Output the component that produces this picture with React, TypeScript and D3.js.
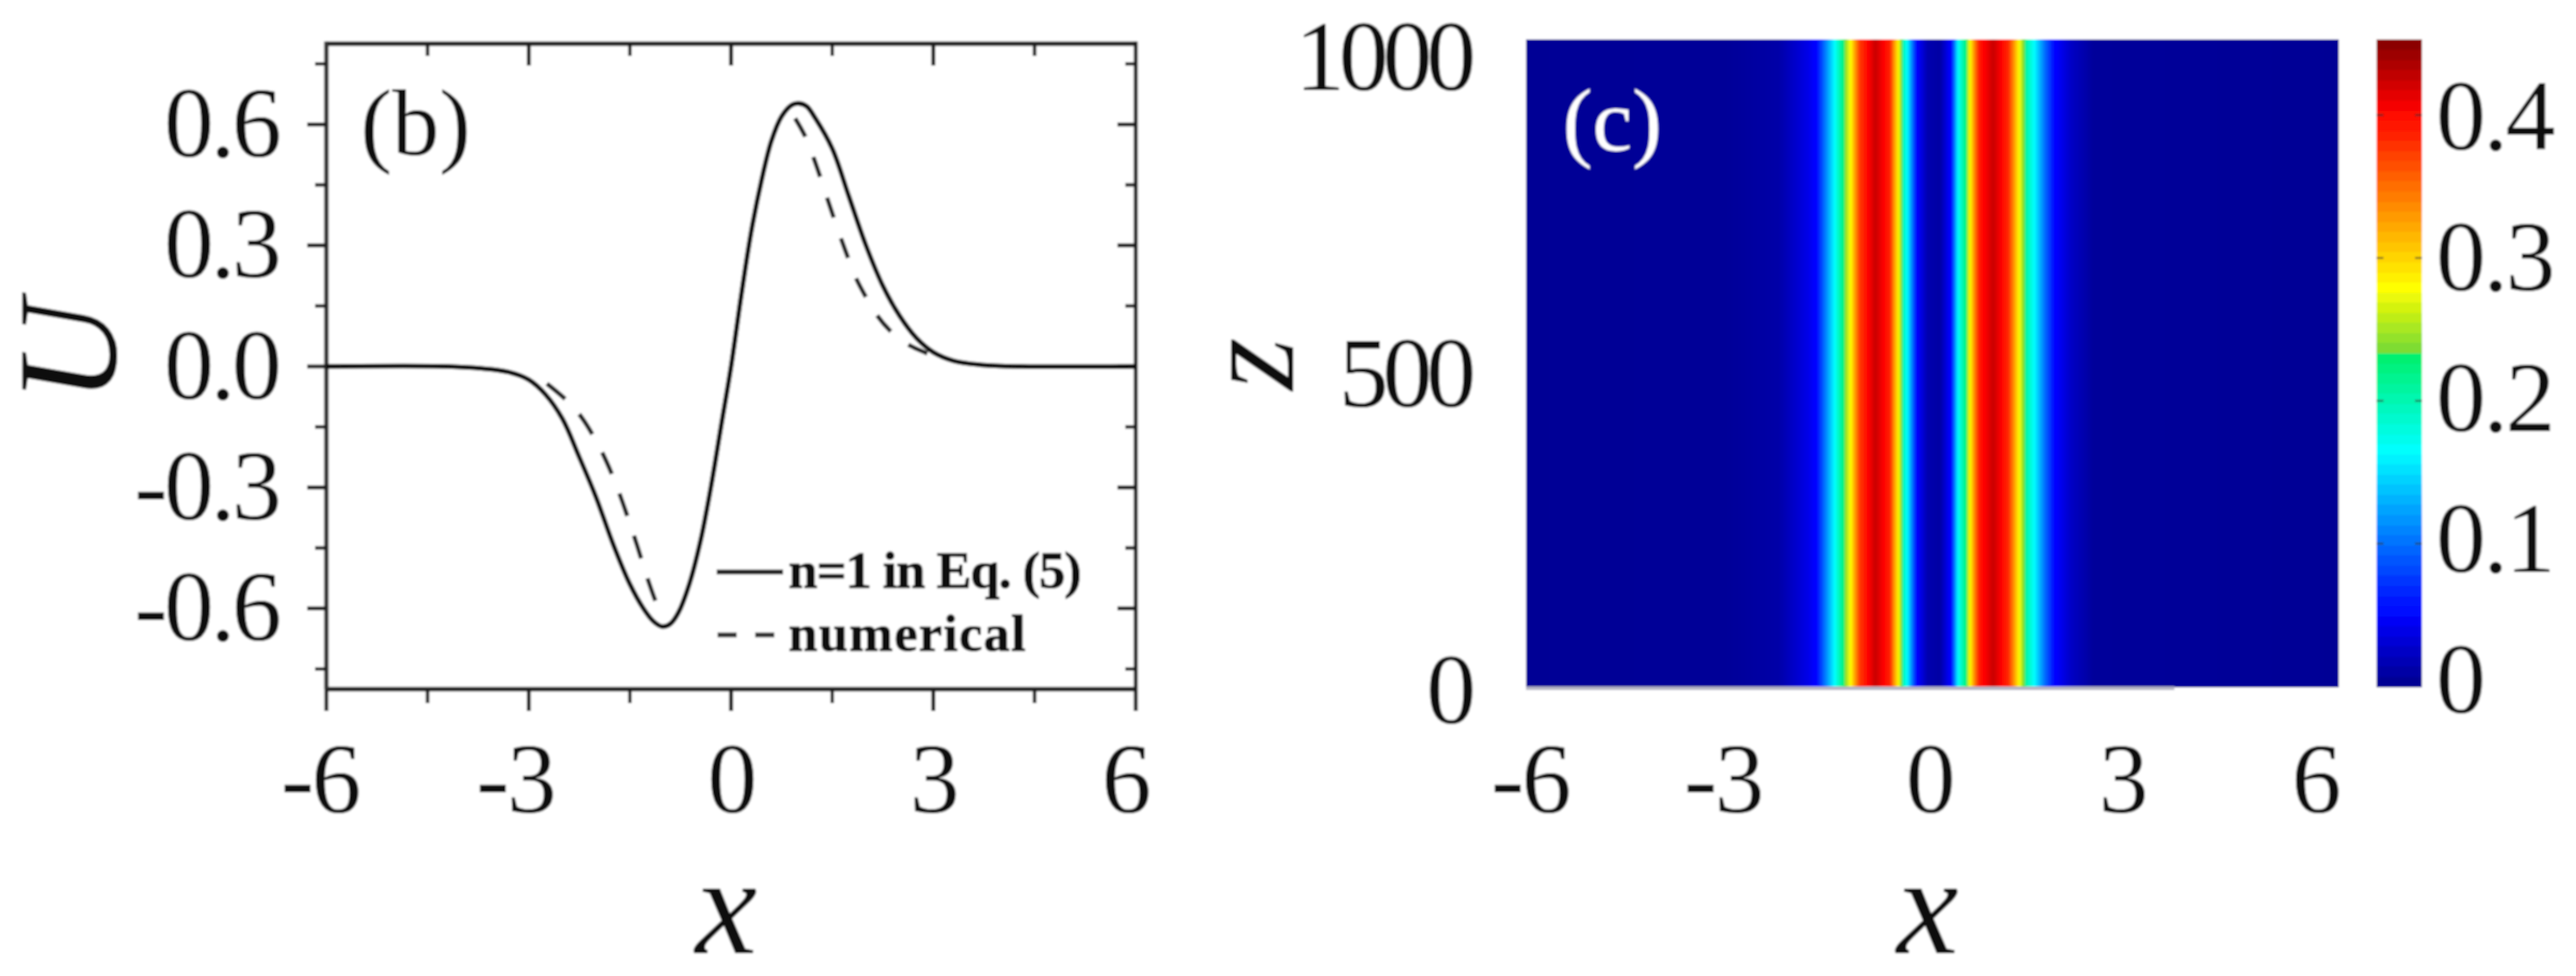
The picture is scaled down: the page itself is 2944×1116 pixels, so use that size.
import React from "react";
import * as d3 from "d3";

// Panel (b) tick values
const bXTicks = [-6, -3, 0, 3, 6];
const bXMinor = [-4.5, -1.5, 1.5, 4.5];
const bYTicks = [-0.6, -0.3, 0, 0.3, 0.6];
const bYMinor = [-0.75, -0.45, -0.15, 0.15, 0.45, 0.75];

// Solid curve: n=1 in Eq. (5)
const solidX = [-6, -4.2, -3.7, -3.3, -3, -2.75, -2.5, -2.25, -2, -1.75, -1.5, -1.3, -1.15, -1.02, -0.9, -0.78, -0.62, -0.45, -0.3, -0.15, 0, 0.15, 0.3, 0.45, 0.6, 0.75, 0.9, 1.0, 1.12, 1.25, 1.5, 1.75, 2, 2.25, 2.5, 2.75, 3, 3.3, 3.7, 4.3, 6];
const solidU = [0, 0, -0.005, -0.014, -0.033, -0.07, -0.13, -0.225, -0.325, -0.44, -0.54, -0.6, -0.632, -0.645, -0.638, -0.61, -0.54, -0.43, -0.3, -0.15, 0, 0.175, 0.335, 0.46, 0.56, 0.62, 0.648, 0.652, 0.645, 0.615, 0.54, 0.42, 0.3, 0.2, 0.125, 0.07, 0.035, 0.014, 0.004, 0, 0];

// Dashed curve: numerical (visible lobes)
const numLeftX = [-2.73, -2.4, -2.2, -2, -1.85, -1.7, -1.55, -1.4, -1.25, -1.1, -1.0];
const numLeftU = [-0.043, -0.09, -0.13, -0.185, -0.235, -0.295, -0.365, -0.44, -0.52, -0.59, -0.625];
const numRightX = [0.95, 1.1, 1.25, 1.4, 1.55, 1.7, 1.85, 2, 2.15, 2.35, 2.6, 2.8, 3.1];
const numRightU = [0.615, 0.57, 0.505, 0.43, 0.355, 0.285, 0.22, 0.172, 0.13, 0.09, 0.057, 0.04, 0.02];

// Panel (c) intensity profile across x (constant along z)
const profileX = [-6.23, -3.2, -2.35, -1.9, -1.76, -1.58, -1.49, -1.36, -1.25, -1.11, -0.87, -0.64, -0.58, -0.51, -0.44, -0.38, -0.24, -0.07, 0.12, 0.3, 0.4, 0.52, 0.63, 0.72, 0.94, 1.17, 1.26, 1.37, 1.46, 1.57, 1.73, 1.87, 2.13, 2.48, 6.23];
const profileI = [0.004, 0.005, 0.012, 0.04, 0.055, 0.13, 0.167, 0.225, 0.28, 0.375, 0.425, 0.385, 0.33, 0.28, 0.2, 0.165, 0.055, 0.015, 0.01, 0.055, 0.165, 0.225, 0.32, 0.39, 0.425, 0.385, 0.33, 0.26, 0.2, 0.165, 0.1, 0.055, 0.025, 0.006, 0.004];
const cXTicks = [-6, -3, 0, 3, 6];
const cZTicks = [0, 500, 1000];
const cbarTicks = [0.1, 0.2, 0.3, 0.4];
const cbarLabels = [0, 0.1, 0.2, 0.3, 0.4];

// Colormap
const jetStops = [0, 0.11, 0.365, 0.5125, 0.5135, 0.617, 0.72, 0.89, 1];
const jetColors = ["#00008c", "#0000ff", "#00ffff", "#00f06c", "#70d838", "#ffff00", "#ffa000", "#ff0000", "#820000"];

const FONT = "'Liberation Serif', 'Times New Roman', serif";
const INK = "#1c1c1c";
const IMAX = 0.453;

const bx = d3.scaleLinear().domain([-6, 6]).range([373, 1298]);
const by = d3.scaleLinear().domain([-0.8, 0.8]).range([788, 50]);
const cx = d3.scaleLinear().domain([-6.23, 6.23]).range([1744, 2672]);
const cxLabel = d3.scaleLinear().domain([-6, 6]).range([1764, 2646]);
const czLabel = d3.scaleLinear().domain([0, 1000]).range([788, 64]);
const cbarY = d3.scaleLinear().domain([0, IMAX]).range([785, 45]);
const cbarLabelY = d3.scaleLinear().domain([0, 0.4]).range([776, 132]);
const jet = d3.scaleLinear<string>().domain(jetStops).range(jetColors).interpolate(d3.interpolateRgb).clamp(true);
const intensityAt = d3.scaleLinear().domain(profileX).range(profileI);
const colorOf = (v: number) => jet(v / IMAX);

const lineB = d3.line<[number, number]>().x((d) => bx(d[0])).y((d) => by(d[1])).curve(d3.curveCatmullRom);
const zip = (a: number[], b: number[]) => a.map((v, i) => [v, b[i]] as [number, number]);

const heatPixels = d3.range(1744, 2672, 2);
const cbarLevels = d3.range(64);

const Num = ({ x, y, fs = 114, anchor = "middle", fill = "#111", children, ls = -3 }: any) => (
  <text x={x} y={y + 0.338 * fs} fontSize={fs} textAnchor={anchor} fill={fill} letterSpacing={ls} fontFamily={FONT}>{children}</text>
);

export default function App() {
  const levelH = (785 - 45) / cbarLevels.length;
  return (
    <svg width={2944} height={1116} viewBox="0 0 2944 1116" style={{ position: "absolute", left: 0, top: 0, background: "#fff" }}>
      <defs>
        <filter id="soft" x="0" y="0" width="2944" height="1116" filterUnits="userSpaceOnUse">
          <feGaussianBlur stdDeviation="1.1" />
        </filter>
      </defs>
      <g filter="url(#soft)">
        <rect x={0} y={0} width={2944} height={1116} fill="#fff" />
        {/* Panel b */}
        <g stroke={INK} fill="none" strokeLinecap="butt">
          <path d={`M${bx(-6)},${by(0.8)}H${bx(6)}M${bx(-6)},${by(-0.8)}H${bx(6)}`} strokeWidth={5} />
          <path d={`M${bx(-6)},${by(0.8) - 2.5}V${by(-0.8)}`} strokeWidth={5} stroke="#333" />
          <path d={`M${bx(6)},${by(0.8) - 2.5}V${813}`} strokeWidth={4.5} />
          <path d={`M${bx(-6)},${by(-0.8)}V${813}`} strokeWidth={4.5} />
          {bXTicks.slice(1, 4).map((t) => (
            <g key={t} strokeWidth={4.5}>
              <line x1={bx(t)} x2={bx(t)} y1={by(0.8)} y2={by(0.8) + 25} />
              <line x1={bx(t)} x2={bx(t)} y1={by(-0.8)} y2={by(-0.8) + 25} />
            </g>
          ))}
          {bXMinor.map((t) => (
            <g key={t} strokeWidth={4}>
              <line x1={bx(t)} x2={bx(t)} y1={by(0.8)} y2={by(0.8) + 14} />
              <line x1={bx(t)} x2={bx(t)} y1={by(-0.8)} y2={by(-0.8) + 16} />
            </g>
          ))}
          {bYTicks.map((t) => (
            <g key={t} strokeWidth={4.5}>
              <line x1={bx(-6) - 22} x2={bx(-6)} y1={by(t)} y2={by(t)} />
              <line x1={bx(6) - 21} x2={bx(6)} y1={by(t)} y2={by(t)} />
            </g>
          ))}
          {bYMinor.map((t) => (
            <g key={t} strokeWidth={4}>
              <line x1={bx(-6) - 13} x2={bx(-6)} y1={by(t)} y2={by(t)} />
              <line x1={bx(6) - 12} x2={bx(6)} y1={by(t)} y2={by(t)} />
            </g>
          ))}
          <path d={lineB(zip(numLeftX, numLeftU)) as string} strokeWidth={5} stroke="#222" strokeDasharray="27 24" />
          <path d={lineB(zip(numRightX, numRightU)) as string} strokeWidth={5} stroke="#222" strokeDasharray="24 25" />
          <path d={lineB(zip(solidX, solidU)) as string} strokeWidth={5.5} stroke="#111" />
          <line x1={819} x2={895} y1={654} y2={654} strokeWidth={5.5} stroke="#222" />
          <line x1={820} x2={885} y1={726} y2={726} strokeWidth={5.5} stroke="#333" strokeDasharray="22 21" />
        </g>
        {bYTicks.map((t) => (
          <Num key={t} x={318} y={by(t) - 2} anchor="end" ls={-4}>{t.toFixed(1)}</Num>
        ))}
        {bXTicks.map((t) => (
          <text key={t} x={(t < 0 ? bx(t) + 29 + (t === -6 ? 8 : 0) : bx(t) - (t === 6 ? 12 : 0))} y={929} fontSize={114} letterSpacing={-3} textAnchor={t < 0 ? "end" : "middle"} fill="#111" fontFamily={FONT}>{t}</text>
        ))}
        <text fontFamily={FONT} fontStyle="italic" fontSize={163} fill="#111" textAnchor="middle" transform="translate(132,402) rotate(-90)">U</text>
        <text fontFamily={FONT} fontStyle="italic" fontSize={160} fill="#111" textAnchor="middle" x={830} y={1090}>x</text>
        <text fontFamily={FONT} fontSize={108} fill="#111" x={412} y={177}>(b)</text>
        <text fontFamily={FONT} fontWeight="bold" fontSize={60} fill="#111" stroke="#111" strokeWidth={0.8} x={901} y={672} letterSpacing={-1.2}>n=1 in Eq. (5)</text>
        <text fontFamily={FONT} fontWeight="bold" fontSize={60} fill="#111" stroke="#111" strokeWidth={0.8} x={901} y={744} letterSpacing={1.4}>numerical</text>

        {/* Panel c */}
        {heatPixels.map((px) => (
          <rect key={px} x={px} y={45} width={2.5} height={741} fill={colorOf(intensityAt(cx.invert(px + 1)))} shapeRendering="crispEdges" />
        ))}
        <line x1={1744} x2={2485} y1={787} y2={787} stroke="#b4b4c4" strokeWidth={4} />
        {cbarLevels.map((i) => (
          <rect key={i} x={2716} y={785 - (i + 1) * levelH} width={52} height={levelH + 0.6} fill={jet((i + 0.5) / cbarLevels.length)} shapeRendering="crispEdges" />
        ))}
        {cbarTicks.map((t) => (
          <g key={t} stroke="#333" strokeWidth={2} opacity={0.7}>
            <line x1={2716} x2={2724} y1={cbarY(t)} y2={cbarY(t)} />
            <line x1={2760} x2={2768} y1={cbarY(t)} y2={cbarY(t)} />
          </g>
        ))}
        {cZTicks.map((t) => (
          <Num key={t} x={1680} y={czLabel(t)} anchor="end" ls={-7}>{t}</Num>
        ))}
        {cXTicks.map((t) => (
          <text key={t} x={t < 0 ? cxLabel(t) + 29 : cxLabel(t)} y={929} fontSize={114} letterSpacing={-3} textAnchor={t < 0 ? "end" : "middle"} fill="#111" fontFamily={FONT}>{t}</text>
        ))}
        {cbarLabels.map((t) => (
          <Num key={t} x={2784} y={cbarLabelY(t)} anchor="start">{t === 0 ? "0" : t.toFixed(1)}</Num>
        ))}
        <text fontFamily={FONT} fontStyle="italic" fontSize={155} fill="#111" textAnchor="middle" transform="translate(1478,416) rotate(-90)">z</text>
        <text fontFamily={FONT} fontStyle="italic" fontSize={160} fill="#111" textAnchor="middle" x={2203} y={1090}>x</text>
        <text fontFamily={FONT} fontSize={102} fill="#fff" x={1786} y={172}>(c)</text>
      </g>
    </svg>
  );
}
